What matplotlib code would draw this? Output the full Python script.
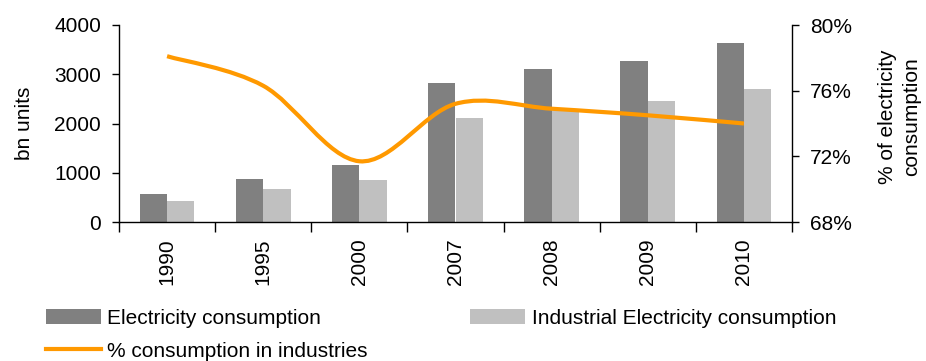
import matplotlib
matplotlib.use("Agg")
import matplotlib.pyplot as plt
from matplotlib.path import Path
from matplotlib.patches import PathPatch, Patch
from matplotlib.lines import Line2D
from matplotlib.ticker import FuncFormatter, FixedLocator
import numpy as np

plt.rcParams["font.family"] = ["Liberation Sans", "DejaVu Sans"]

# Data
years = ["1990", "1995", "2000", "2007", "2008", "2009", "2010"]
electricity = [570, 870, 1160, 2830, 3110, 3270, 3640]          # bn units
industrial = [430, 670, 860, 2120, 2300, 2450, 2700]            # bn units
industry_share = [78.1, 76.3, 71.7, 75.2, 74.9, 74.5, 74.0]     # % of electricity consumption

DARK = "#808080"
LIGHT = "#c0c0c0"
ORANGE = "#ff9900"
FS = 15

fig = plt.figure(figsize=(9.26, 3.61), dpi=100)
ax = fig.add_axes([119 / 926, 1 - 222 / 361, (792 - 119) / 926, (222 - 25) / 361])
ax2 = ax.twinx()

x = np.arange(len(years))
bw = 0.285
ax.bar(x - bw / 2, electricity, width=bw, color=DARK, zorder=2)
ax.bar(x + bw / 2, industrial, width=bw, color=LIGHT, zorder=2)

ax.set_xlim(-0.5, len(years) - 0.5)
ax.set_ylim(0, 4000)
ax.set_yticks([0, 1000, 2000, 3000, 4000])
ax.set_xticks(x)
ax.set_xticklabels(years, rotation=90, fontsize=FS)
ax.xaxis.set_minor_locator(FixedLocator(np.arange(-0.5, len(years), 1.0)))
ax.tick_params(axis="x", which="major", length=0, pad=12)
ax.tick_params(axis="x", which="minor", length=7, width=1, direction="out")
ax.tick_params(axis="y", length=5, width=1, direction="out", labelsize=FS, pad=8)

# Smoothed share line: cubic Bezier segments through each data point
pts = list(zip(x.astype(float), industry_share))
verts = [pts[0]]
codes = [Path.MOVETO]
n = len(pts)
for i in range(n - 1):
    p0 = pts[max(i - 1, 0)]
    p1 = pts[i]
    p2 = pts[i + 1]
    p3 = pts[min(i + 2, n - 1)]
    c1 = (p1[0] + (p2[0] - p0[0]) / 6, p1[1] + (p2[1] - p0[1]) / 6)
    c2 = (p2[0] - (p3[0] - p1[0]) / 6, p2[1] - (p3[1] - p1[1]) / 6)
    verts += [c1, c2, p2]
    codes += [Path.CURVE4] * 3
ax2.add_patch(PathPatch(Path(verts, codes), facecolor="none", edgecolor=ORANGE,
                        linewidth=3, capstyle="butt", joinstyle="round", zorder=3))
ax2.set_ylim(68, 80)
ax2.set_yticks([68, 72, 76, 80])
ax2.yaxis.set_major_formatter(FuncFormatter(lambda v, p: f"{v:.0f}%"))
ax2.tick_params(axis="y", length=5, width=1, direction="out", labelsize=FS, pad=8)

for a in (ax, ax2):
    a.spines["top"].set_visible(False)
    for s in ("left", "right", "bottom"):
        a.spines[s].set_linewidth(1)
ax.spines["right"].set_visible(False)
ax2.spines["left"].set_visible(False)
ax2.spines["bottom"].set_visible(False)

fig.text(25 / 926, 1 - 123 / 361, "bn units", rotation=90, ha="center", va="center", fontsize=FS)
fig.text(900 / 926, 1 - 117 / 361, "% of electricity\nconsumption", rotation=90,
         ha="center", va="center", multialignment="center", fontsize=FS, linespacing=1.35)

handles = [Patch(facecolor=DARK, label="Electricity consumption"),
           Line2D([], [], color=ORANGE, linewidth=3, label="% consumption in industries"),
           Patch(facecolor=LIGHT, label="Industrial Electricity consumption")]
fig.legend(handles=handles, ncol=2, loc="upper left",
           bbox_to_anchor=(46 / 926, 1 - 309 / 361), frameon=False, fontsize=FS,
           handlelength=2.65, handleheight=0.75, handletextpad=0.3,
           columnspacing=4.9, labelspacing=0.65, borderaxespad=0, borderpad=0)

fig.savefig("out.png", dpi=100)
